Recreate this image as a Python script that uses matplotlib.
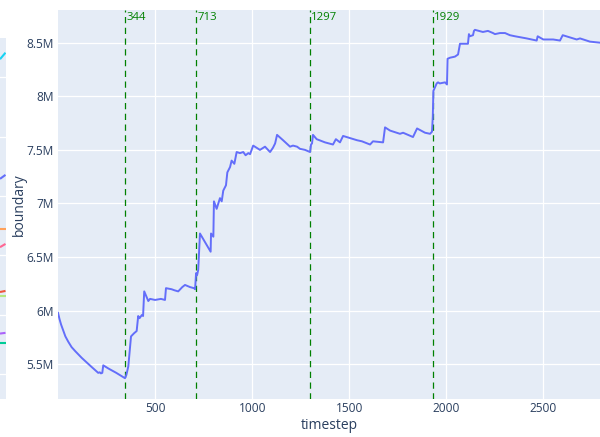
import matplotlib
matplotlib.use("Agg")
import matplotlib.pyplot as plt
from matplotlib.ticker import FuncFormatter, FixedLocator

# ---- data ----
timestep = [0, 8, 16, 26, 38, 53, 70, 90, 122, 170, 207, 215, 221, 228, 233, 260, 300, 345,
            352, 362, 376, 392, 405, 413, 420, 432, 438, 444, 465, 474, 500, 530, 551,
            556, 585, 600, 619, 640, 654, 680, 700, 706, 711, 716, 722, 731, 760, 786,
            788, 800, 803, 817, 834, 843, 851, 865, 872, 886, 894, 908, 920, 937, 954,
            966, 980, 989, 1005, 1014, 1040, 1066, 1092, 1107, 1118, 1128, 1159, 1195, 1210,
            1231, 1246, 1272, 1298, 1303, 1308, 1313, 1332, 1375, 1416, 1431, 1452, 1468,
            1504, 1540, 1565, 1607, 1622, 1674, 1684, 1710, 1761, 1777, 1802, 1828, 1849,
            1890, 1916, 1926, 1930, 1933, 1950, 1957, 1966, 1993, 2003, 2006, 2019, 2044,
            2060, 2070, 2111, 2116, 2121, 2137, 2142, 2147, 2188, 2214, 2240, 2250, 2276,
            2302, 2327, 2353, 2413, 2465, 2470, 2499, 2550, 2585, 2599, 2636, 2671, 2688,
            2739, 2791]
boundary_m = [5.98, 5.92, 5.87, 5.82, 5.76, 5.71, 5.66, 5.62, 5.56, 5.48, 5.42, 5.425, 5.415, 5.42, 5.49, 5.46, 5.42, 5.37,
              5.40, 5.48, 5.76, 5.79, 5.81, 5.95, 5.93, 5.96, 5.95, 6.18, 6.09, 6.11, 6.10, 6.11, 6.10,
              6.21, 6.20, 6.19, 6.18, 6.22, 6.24, 6.22, 6.21, 6.20, 6.35, 6.33, 6.38, 6.72, 6.63, 6.55,
              6.72, 6.69, 7.02, 6.95, 7.05, 7.02, 7.12, 7.17, 7.29, 7.34, 7.40, 7.37, 7.48, 7.47, 7.48,
              7.45, 7.47, 7.46, 7.54, 7.53, 7.50, 7.53, 7.48, 7.52, 7.56, 7.64, 7.59, 7.53, 7.54,
              7.53, 7.51, 7.50, 7.48, 7.55, 7.56, 7.64, 7.60, 7.57, 7.55, 7.60, 7.57, 7.63,
              7.61, 7.59, 7.58, 7.55, 7.58, 7.57, 7.71, 7.68, 7.65, 7.66, 7.64, 7.62, 7.70,
              7.66, 7.65, 7.67, 7.81, 8.05, 8.12, 8.13, 8.12, 8.13, 8.11, 8.35, 8.36, 8.37,
              8.39, 8.49, 8.49, 8.58, 8.56, 8.57, 8.61, 8.62, 8.60, 8.61, 8.59, 8.58, 8.59,
              8.59, 8.57, 8.56, 8.54, 8.52, 8.56, 8.53, 8.53, 8.52, 8.57, 8.55, 8.53, 8.54,
              8.51, 8.50]
event_steps = [344, 713, 1297, 1929]
y_ticks_m = [5.5, 6, 6.5, 7, 7.5, 8, 8.5]
x_ticks = [500, 1000, 1500, 2000, 2500]

# partially visible neighbouring panel (line stubs at its right edge)
stub_colors = ["#19d3f3", "#636efa", "#FFA15A", "#FF6692", "#EF553B", "#B6E880", "#ab63fa", "#00cc96"]
stub_start = [0.940, 0.609, 0.470, 0.420, 0.296, 0.285, 0.181, 0.154]
stub_end = [0.958, 0.620, 0.470, 0.429, 0.299, 0.285, 0.183, 0.154]
stub_grid = [0.068, 0.232, 0.397, 0.562, 0.726, 0.891]

BG = "#E5ECF6"
FONT_C = "#2a3f5f"
plt.rcParams['font.family'] = ['Open Sans', 'DejaVu Sans']

fig = plt.figure(figsize=(6.0, 4.37), dpi=100)

# left cut-off panel
axl = fig.add_axes([0.0, 1 - 399 / 437, 5.5 / 600, (399 - 37.5) / 437])
axl.set_facecolor(BG)
axl.set_xlim(0, 1)
axl.set_ylim(0, 1)
for s in axl.spines.values():
    s.set_visible(False)
axl.yaxis.set_major_locator(FixedLocator(stub_grid))
axl.set_xticks([])
axl.tick_params(left=False, labelleft=False)
axl.grid(True, axis='y', color='white', lw=0.9)
axl.set_axisbelow(True)
for c, a, b in zip(stub_colors, stub_start, stub_end):
    axl.plot([0, 1], [a, b], color=c, lw=1.5, solid_capstyle='butt')

# main panel
ax = fig.add_axes([58 / 600, 1 - 399 / 437, 1 - 58 / 600, (399 - 10) / 437])
ax.set_facecolor(BG)
for s in ax.spines.values():
    s.set_visible(False)
ax.grid(True, color='white', lw=0.9)
ax.set_axisbelow(True)

ax.plot(timestep, [v * 1e6 for v in boundary_m], color="#636efa", lw=1.4, zorder=3)

for st in event_steps:
    ax.axvline(st, color="green", lw=0.9, linestyle=(0, (5, 3.6)), zorder=2)
    ax.text(st + 8, 8.735e6, str(st), color="green", fontsize=8.2,
            ha='left', va='center', zorder=4)

ax.set_xlim(0, 2791)
ax.set_ylim(5.176e6, 8.805e6)
ax.set_xticks(x_ticks)
ax.set_yticks([v * 1e6 for v in y_ticks_m])


def fmt(v, pos):
    m = v / 1e6
    return ("%g" % round(m, 2)) + "M"


ax.yaxis.set_major_formatter(FuncFormatter(fmt))
ax.tick_params(axis='both', length=0, colors=FONT_C, labelsize=8.6)
ax.tick_params(axis='y', pad=3)
ax.tick_params(axis='x', pad=2)
ax.set_xlabel("timestep", color=FONT_C, fontsize=10, labelpad=2)
ax.set_ylabel("boundary", color=FONT_C, fontsize=10, labelpad=0)

fig.savefig("out.png", dpi=100)
